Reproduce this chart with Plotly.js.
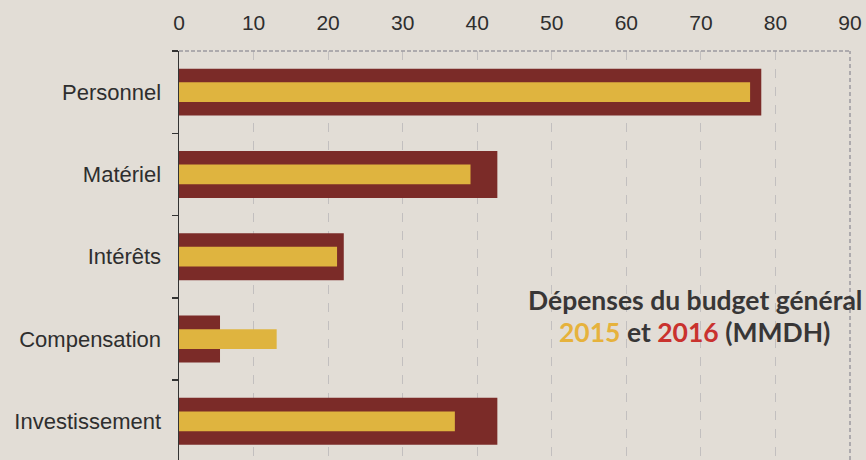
<!DOCTYPE html>
<html>
<head>
<meta charset="utf-8">
<script src="https://cdn.plot.ly/plotly-3.0.1.min.js"></script>
<style>
html,body{margin:0;padding:0;background:#e2ddd6;}
#chart{width:866px;height:460px;}
</style>
</head>
<body>
<div id="chart"></div>
<script>
const categories = ["Personnel", "Matériel", "Intérêts", "Compensation", "Investissement"];
const values2016 = [78.1, 42.7, 22.1, 5.5, 42.7];
const values2015 = [76.6, 39.1, 21.2, 13.1, 37.0];
const xTicks = [0, 10, 20, 30, 40, 50, 60, 70, 80, 90];

const traces = [
  {
    type: "bar", orientation: "h", name: "2016",
    y: categories, x: values2016,
    width: 0.57,
    marker: {color: "#7b2b28"},
    hoverinfo: "x+y"
  },
  {
    type: "bar", orientation: "h", name: "2015",
    y: categories, x: values2015,
    width: 0.24,
    marker: {color: "#dfb43f"},
    hoverinfo: "x+y"
  }
];

const layout = {
  width: 866, height: 460,
  margin: {l: 179, r: 16, t: 51, b: 0, pad: 0},
  paper_bgcolor: "#e2ddd6",
  plot_bgcolor: "#e2ddd6",
  barmode: "overlay",
  showlegend: false,
  font: {family: "Liberation Sans, Arial, sans-serif", color: "#2e2e2e", size: 21},
  xaxis: {
    side: "top",
    range: [0, 90],
    tickvals: xTicks,
    ticktext: xTicks.map(String),
    showgrid: true,
    gridcolor: "#c2bfbf",
    griddash: "dash",
    gridwidth: 1,
    zeroline: false,
    showline: false,
    ticks: "",
    ticklabelstandoff: 16,
    tickfont: {size: 21, color: "#2e2e2e"},
    fixedrange: true
  },
  yaxis: {
    type: "category",
    range: [4.47, -0.5],
    showgrid: false,
    zeroline: false,
    showline: true,
    linecolor: "#333333",
    linewidth: 1.5,
    ticks: "outside",
    tickson: "boundaries",
    ticklen: 6,
    tickwidth: 1.5,
    tickcolor: "#333333",
    ticklabelstandoff: 12,
    tickfont: {size: 22, color: "#2e2e2e"},
    fixedrange: true
  },
  shapes: [
    {type: "line", xref: "paper", yref: "paper", x0: 0, x1: 1, y0: 1, y1: 1,
     line: {color: "#9c99a0", width: 1.5, dash: "4px,2px"}},
    {type: "line", xref: "paper", yref: "paper", x0: 1, x1: 1, y0: 0, y1: 1,
     line: {color: "#9c99a0", width: 1.5, dash: "4px,3px"}}
  ],
  annotations: [
    {xref: "paper", yref: "paper", x: 0.769, y: 0.39, xanchor: "center", yanchor: "middle",
     showarrow: false,
     text: "<b>Dépenses du budget général</b>",
     font: {family: "Lato, Open Sans, sans-serif", size: 26.5, color: "#383636"}},
    {xref: "paper", yref: "paper", x: 0.769, y: 0.312, xanchor: "center", yanchor: "middle",
     showarrow: false,
     text: "<b><span style='color:#e6b23c'>2015</span> et <span style='color:#c9322e'>2016</span> (MMDH)</b>",
     font: {family: "Lato, Open Sans, sans-serif", size: 26.5, color: "#383636"}}
  ]
};

Plotly.newPlot("chart", traces, layout, {displayModeBar: false, staticPlot: true});
</script>
</body>
</html>
